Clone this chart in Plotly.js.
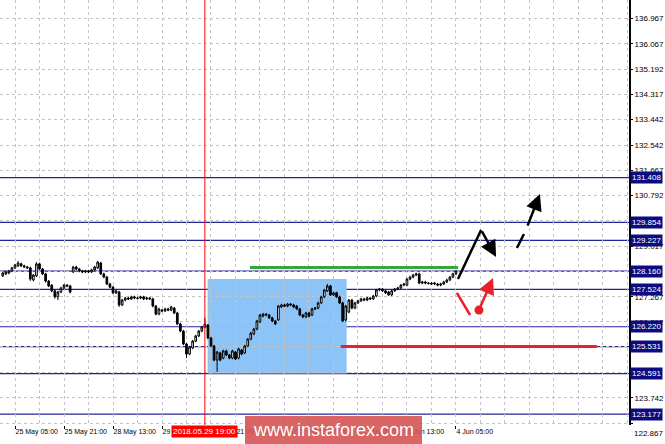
<!DOCTYPE html>
<html><head><meta charset="utf-8">
<script src="https://cdn.plot.ly/plotly-3.0.1.min.js"></script>
<style>html,body{margin:0;padding:0;background:#fff;overflow:hidden}#chart{width:665px;height:444px}</style>
</head><body><div id="chart"></div>
<script>
// ---- DATA (EUR/JPY H1, bar index 0 = 25 May 05:00) ----
const firstBar = -4;
const openP = [
127.99,128.06,128.09,128.16,
128.27,128.34,128.41,128.34,128.30,128.27,127.85,127.99,128.41,128.23,
128.06,127.81,127.67,127.47,127.26,127.43,127.57,127.67,127.64,128.13,
128.30,128.23,128.16,128.13,128.16,128.13,128.20,128.27,128.44,128.06,
127.95,127.71,127.60,127.40,127.43,126.98,127.15,127.22,127.19,127.26,
127.22,127.22,127.26,127.19,127.22,127.19,126.94,126.66,126.80,126.77,
126.84,126.80,126.87,126.70,126.32,126.07,125.62,125.27,125.48,125.72,
125.90,126.07,126.21,126.28,125.83,125.55,125.06,125.31,125.13,125.38,
125.24,125.13,125.34,125.13,125.41,125.31,125.55,125.79,125.97,126.14,
126.39,126.59,126.66,126.63,126.53,126.42,126.46,126.91,126.98,126.94,
127.01,126.98,126.94,126.84,126.63,126.56,126.70,126.63,126.84,126.87,
127.05,127.26,127.47,127.64,127.33,127.40,127.26,127.05,126.46,126.73,
127.15,126.87,127.05,127.12,127.19,127.15,127.22,127.19,127.29,127.50,
127.53,127.47,127.43,127.33,127.47,127.53,127.57,127.67,127.67,127.88,
127.95,128.02,128.06,127.74,127.78,127.74,127.74,127.71,127.71,127.67,
127.71,127.78,127.85,127.95,128.06];
const highP = [
128.13,128.17,128.20,128.31,
128.41,128.51,128.45,128.38,128.34,128.31,128.06,128.47,128.45,128.27,
128.10,127.85,127.71,127.51,127.47,127.61,127.71,127.71,127.68,128.34,
128.34,128.27,128.20,128.20,128.20,128.24,128.34,128.51,128.48,128.10,
127.99,127.75,127.64,127.51,127.47,127.19,127.26,127.26,127.30,127.30,
127.26,127.30,127.30,127.26,127.26,127.23,126.98,126.88,126.84,126.88,
126.88,126.95,126.91,126.74,126.36,126.11,125.66,125.56,125.76,125.94,
126.11,126.25,126.53,126.32,125.87,125.59,125.38,125.35,125.42,125.42,
125.28,125.42,125.38,125.49,125.45,125.59,125.83,126.04,126.18,126.46,
126.67,126.70,126.70,126.67,126.57,126.46,126.98,127.02,127.02,127.05,
127.05,127.02,126.98,126.88,126.67,126.74,126.74,126.88,126.91,127.09,
127.30,127.54,127.71,127.68,127.44,127.44,127.30,127.09,126.98,127.19,
127.19,127.09,127.16,127.23,127.23,127.26,127.26,127.33,127.54,127.57,
127.57,127.51,127.47,127.51,127.57,127.61,127.71,127.75,127.92,127.99,
128.06,128.10,128.10,127.82,127.82,127.78,127.78,127.78,127.75,127.75,
127.82,127.89,127.99,128.10,128.20];
const lowP = [
127.95,128.02,128.05,128.12,
128.23,128.30,128.30,128.27,128.23,127.82,127.80,127.95,128.19,128.02,
127.76,127.60,127.42,127.20,127.15,127.39,127.53,127.60,127.38,128.09,
128.19,128.12,128.09,128.09,128.09,128.09,128.16,128.23,128.02,127.91,
127.67,127.56,127.36,127.36,126.91,126.94,127.11,127.15,127.15,127.18,
127.17,127.18,127.15,127.15,127.15,126.90,126.62,126.62,126.73,126.73,
126.76,126.76,126.66,126.28,126.03,125.58,125.13,125.23,125.44,125.68,
125.86,126.03,126.17,125.79,125.51,125.02,124.65,125.02,125.09,125.20,
125.09,125.09,125.06,125.09,125.23,125.27,125.51,125.75,125.93,126.10,
126.35,126.55,126.59,126.49,126.38,126.28,126.42,126.87,126.90,126.90,
126.94,126.87,126.80,126.59,126.52,126.52,126.55,126.59,126.80,126.83,
127.01,127.22,127.43,127.29,127.29,127.22,127.01,126.38,126.40,126.69,
126.83,126.83,127.01,127.08,127.11,127.11,127.15,127.15,127.25,127.46,
127.43,127.36,127.29,127.29,127.43,127.49,127.53,127.63,127.63,127.84,
127.91,127.98,127.70,127.70,127.70,127.69,127.67,127.67,127.63,127.63,
127.67,127.74,127.81,127.91,128.02];
const closeP = [
128.09,128.13,128.16,128.27,
128.37,128.44,128.34,128.30,128.27,127.88,128.02,128.41,128.23,128.06,
127.81,127.64,127.47,127.26,127.43,127.57,127.67,127.64,127.43,128.30,
128.23,128.16,128.13,128.16,128.13,128.20,128.30,128.47,128.06,127.95,
127.71,127.60,127.40,127.47,126.98,127.15,127.22,127.19,127.26,127.22,
127.21,127.26,127.19,127.22,127.19,126.94,126.66,126.84,126.77,126.84,
126.80,126.91,126.70,126.32,126.07,125.62,125.27,125.52,125.72,125.90,
126.07,126.21,126.32,125.83,125.55,125.06,125.34,125.06,125.38,125.24,
125.13,125.38,125.10,125.45,125.27,125.55,125.79,126.00,126.14,126.42,
126.63,126.66,126.63,126.53,126.42,126.32,126.94,126.98,126.94,127.01,
126.98,126.91,126.84,126.63,126.56,126.70,126.59,126.84,126.87,127.05,
127.26,127.50,127.64,127.33,127.40,127.26,127.05,126.42,126.94,127.15,
126.87,127.05,127.12,127.19,127.15,127.22,127.19,127.29,127.50,127.53,
127.47,127.40,127.33,127.47,127.53,127.57,127.67,127.71,127.88,127.95,
128.02,128.06,127.74,127.78,127.74,127.73,127.71,127.74,127.67,127.71,
127.78,127.85,127.95,128.06,128.16];

// grid/tick prices (labels hidden behind level boxes are left blank)
const yTickVals = [136.967,136.067,135.192,134.317,133.442,132.542,131.667,130.792,129.917,129.017,128.142,127.267,126.392,125.517,124.617,123.742,122.867];
const yTickText = ['136.967','136.067','135.192','134.317','133.442','132.542','131.667','130.792','','129.017','','127.267','126.392','','','123.742',''];
const bottomPriceLabel = '122.867';
const xTickVals = [0,16,32,48,64,80,96,112,128,144];
const xTickText = ['25 May 05:00','25 May 21:00','28 May 13:00','29 May 05:00','29 May 21:00','30 May 13:00','31 May 05:00','31 May 21:00','1 Jun 13:00','4 Jun 05:00'];
const levels = [131.408,129.854,129.227,128.160,127.524,126.220,125.531,124.591,123.177];
const levelLabels = ['131.408','129.854','129.227','128.160','127.524','126.220','125.531','124.591','123.177'];
const crossBar = 62; const crossLabel = '2018.05.29 19:00';
const boxZone = {x0:62.9, x1:108.3, y0:124.591, y1:127.88};
const greenLevel = {x0:76.7, x1:144.7, y:128.28};
const redLevel = {x0:106.4, x1:190, y:125.531};
// forecast arrows (bar index, price)
const blackPathX = [144.65,152.2,157.1];
const blackPathY = [127.88,129.59,128.65];
const dashPathX = [163.9,166.2,167.2,171.4];
const dashPathY = [128.96,129.45,129.69,130.84];
const redPathX = [144.3,148.6];
const redPathY = [127.40,126.63];
const redArrowX = [151.5,156.1];
const redArrowY = [126.80,127.92];

// ---- BUILD ----
const barX = openP.map((_, k) => firstBar + k);
const FONT = 'Liberation Sans, Arial, sans-serif';
const NAVY = '#24249a';

const traces = [{
  type:'candlestick', x:barX, open:openP, high:highP, low:lowP, close:closeP,
  increasing:{line:{color:'#000',width:1}, fillcolor:'#ffffff'},
  decreasing:{line:{color:'#000',width:1}, fillcolor:'#000000'},
  whiskerwidth:0, hoverinfo:'skip', showlegend:false
},{
  type:'scatter', mode:'markers', x:[redArrowX[0]], y:[redArrowY[0]],
  marker:{color:'#e8202a', size:9}, hoverinfo:'skip', showlegend:false
}];

const shapes = [];
shapes.push({type:'rect', xref:'x', yref:'y', x0:boxZone.x0, x1:boxZone.x1, y0:boxZone.y0, y1:boxZone.y1,
  fillcolor:'#8cc4f8', line:{width:0}, layer:'below'});
levels.forEach(v => shapes.push({type:'line', xref:'paper', yref:'y', x0:0, x1:1, y0:v, y1:v,
  line:{color:NAVY, width:1.2}, layer:'between'}));
shapes.push({type:'line', xref:'x', yref:'y', x0:greenLevel.x0, x1:greenLevel.x1, y0:greenLevel.y, y1:greenLevel.y,
  line:{color:'#3aa63a', width:3}, layer:'above'});
shapes.push({type:'line', xref:'x', yref:'y', x0:redLevel.x0, x1:redLevel.x1, y0:redLevel.y, y1:redLevel.y,
  line:{color:'#e8202a', width:3}, layer:'above'});
shapes.push({type:'line', xref:'x', yref:'paper', x0:crossBar, x1:crossBar, y0:0, y1:1,
  line:{color:'#ff0000', width:1}, layer:'above'});
shapes.push({type:'line', xref:'x', yref:'y', x0:blackPathX[0], x1:blackPathX[1], y0:blackPathY[0], y1:blackPathY[1],
  line:{color:'#000', width:2.5}, layer:'above'});
shapes.push({type:'line', xref:'x', yref:'y', x0:dashPathX[0], x1:dashPathX[1], y0:dashPathY[0], y1:dashPathY[1],
  line:{color:'#000', width:2.5}, layer:'above'});
shapes.push({type:'line', xref:'x', yref:'y', x0:redPathX[0], x1:redPathX[1], y0:redPathY[0], y1:redPathY[1],
  line:{color:'#e8202a', width:2.5}, layer:'above'});
// watermark box
shapes.push({type:'rect', xref:'paper', yref:'paper', x0:245/629, x1:422/629, y0:(425-444)/425, y1:(425-416)/425,
  fillcolor:'rgba(214,84,84,0.9)', line:{width:0}, layer:'above'});

const annotations = [];
levels.forEach((v,k) => annotations.push({xref:'paper', yref:'y', x:1, y:v, xanchor:'left', yanchor:'middle',
  xshift:1, text:levelLabels[k], showarrow:false, bgcolor:'#0c0c80', borderpad:1,
  font:{family:FONT, size:8, color:'#ffffff'}}));
annotations.push({xref:'paper', yref:'paper', x:1, y:(425-433)/425, xanchor:'left', yanchor:'middle', xshift:3,
  text:bottomPriceLabel, showarrow:false, font:{family:FONT, size:8, color:'#000'}});
annotations.push({xref:'x', yref:'paper', x:crossBar, y:(425-431.5)/425, xanchor:'center', yanchor:'middle',
  text:crossLabel, showarrow:false, bgcolor:'#ff0000', borderpad:1, font:{family:FONT, size:8, color:'#ffffff'}});
annotations.push({xref:'x', yref:'y', axref:'x', ayref:'y', x:blackPathX[2], y:blackPathY[2], ax:blackPathX[1], ay:blackPathY[1],
  text:'', showarrow:true, arrowhead:2, arrowsize:1.3, arrowwidth:2.5, arrowcolor:'#000', standoff:0, startstandoff:0});
annotations.push({xref:'x', yref:'y', axref:'x', ayref:'y', x:dashPathX[3], y:dashPathY[3], ax:dashPathX[2], ay:dashPathY[2],
  text:'', showarrow:true, arrowhead:2, arrowsize:1.3, arrowwidth:2.5, arrowcolor:'#000', standoff:0, startstandoff:0});
annotations.push({xref:'x', yref:'y', axref:'x', ayref:'y', x:redArrowX[1], y:redArrowY[1], ax:redArrowX[0], ay:redArrowY[0],
  text:'', showarrow:true, arrowhead:2, arrowsize:1.3, arrowwidth:2.5, arrowcolor:'#e8202a', standoff:0, startstandoff:0});
annotations.push({xref:'paper', yref:'paper', x:333.5/629, y:(425-430)/425, xanchor:'center', yanchor:'middle',
  text:'www.instaforex.com', showarrow:false, font:{family:FONT, size:18, color:'#ffffff'}});

const layout = {
  width:665, height:444, margin:{l:0, r:36, t:0, b:19, pad:0},
  paper_bgcolor:'#ffffff', plot_bgcolor:'#ffffff', showlegend:false, boxgap:0.22,
  font:{family:FONT, size:8, color:'#000'},
  xaxis:{range:[-4.9,200.5], tickmode:'array', tickvals:xTickVals, ticktext:xTickText, tickangle:0,
    ticklabelposition:'outside right', tickfont:{family:FONT, size:7, color:'#000'},
    ticks:'outside', ticklen:3, tickcolor:'#000', showgrid:false, zeroline:false, showline:false,
    rangeslider:{visible:false}, fixedrange:true,
    minor:{tickmode:'linear', tick0:0, dtick:8, showgrid:true, gridcolor:'#c4c4c4', griddash:'3px,3px', gridwidth:1, ticks:''}},
  yaxis:{range:[122.801,137.594], side:'right', tickmode:'array', tickvals:yTickVals, ticktext:yTickText,
    tickfont:{family:FONT, size:8, color:'#000'}, ticks:'outside', ticklen:2, tickcolor:'#000',
    showgrid:true, gridcolor:'#c4c4c4', griddash:'3px,3px', gridwidth:1, zeroline:false,
    showline:true, linecolor:'#000', linewidth:2, fixedrange:true},
  shapes:shapes, annotations:annotations
};
Plotly.newPlot('chart', traces, layout, {staticPlot:true, displayModeBar:false});
</script></body></html>
